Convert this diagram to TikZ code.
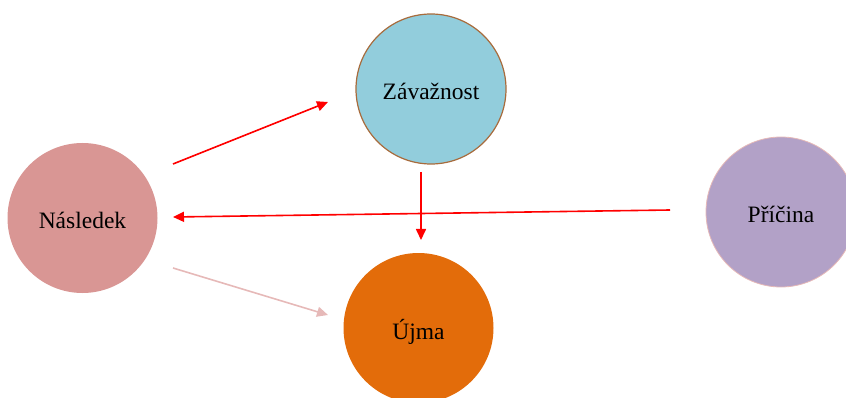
\documentclass[tikz,border=0pt]{standalone}
\usepackage{fontspec}
\setmainfont{Liberation Serif}
\usetikzlibrary{arrows.meta}
\definecolor{czav}{HTML}{92CDDC}
\definecolor{czavb}{HTML}{A86B3C}
\definecolor{cnas}{HTML}{D99694}
\definecolor{cpri}{HTML}{B2A1C7}
\definecolor{cprib}{HTML}{E6B9B8}
\definecolor{cujm}{HTML}{E36C0A}
\definecolor{cred}{HTML}{FF0000}
\definecolor{cpink}{HTML}{E6B9B8}
\begin{document}
\begin{tikzpicture}[x=1pt,y=-1pt,
  circ/.style={circle, minimum size=150pt, inner sep=0pt, text height=22pt, text depth=0pt, font=\fontsize{23.5}{28}\selectfont},
  arr/.style={line width=1.6pt, -{Triangle[length=11pt,width=10pt]}}]
\useasboundingbox (0,0) rectangle (846,398);
\clip (0,0) rectangle (846,398);
\node[circ, fill=czav, draw=czavb, line width=1.2pt] (zav) at (431,89) {Závažnost};
\node[circ, fill=cnas] (nas) at (82.5,218) {Následek};
\node[circ, fill=cpri, draw=cprib, line width=0.8pt] (pri) at (781,212) {Příčina};
\node[circ, fill=cujm] (ujm) at (418.5,328) {Újma};
\coordinate (a1s) at (173,164);
\coordinate (a1e) at (328,102);
\coordinate (a2s) at (421,172);
\coordinate (a2e) at (421,240);
\coordinate (a3s) at (670,210);
\coordinate (a3e) at (173,217);
\coordinate (a4s) at (173,268);
\coordinate (a4e) at (328,315);
\draw[arr, cred] (a1s) -- (a1e);
\draw[arr, cred] (a2s) -- (a2e);
\draw[arr, cred] (a3s) -- (a3e);
\draw[arr, cpink] (a4s) -- (a4e);
\end{tikzpicture}
\end{document}
